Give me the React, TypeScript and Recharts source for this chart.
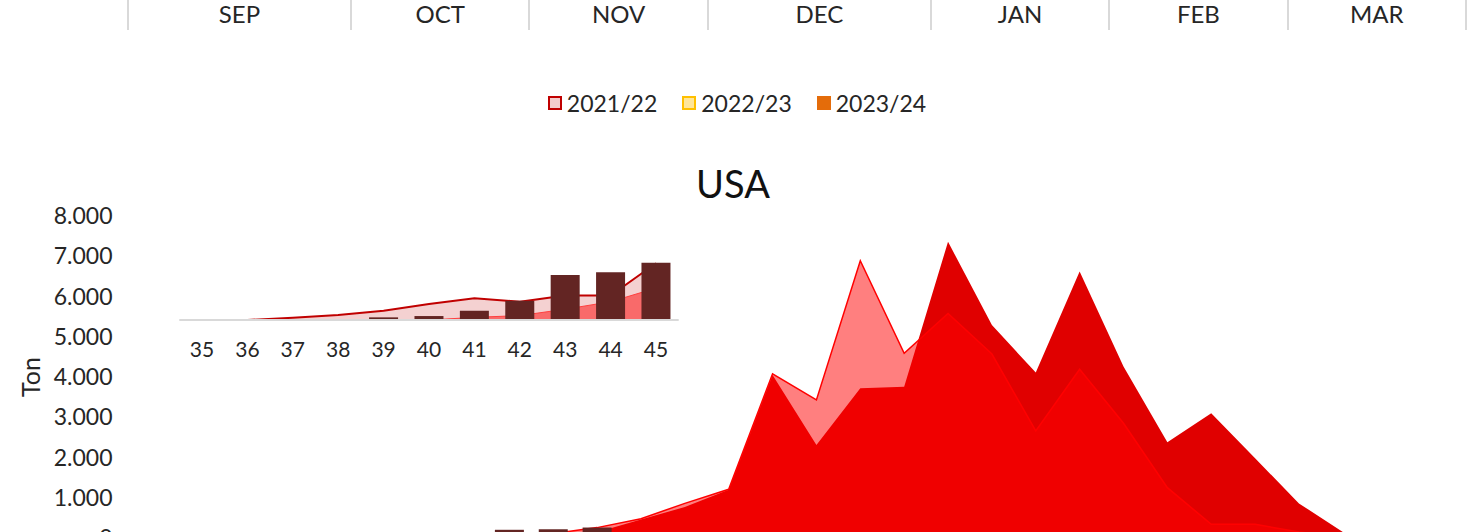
import React from 'react';
import { ComposedChart, Area, Bar, XAxis, YAxis } from 'recharts';

// ---- data ----
const weeks = ['35','36','37','38','39','40','41','42','43','44','45','46','47','48','49','50','51','52','1','2','3','4','5','6','7','8','9','10','11','12'];
const season2122: (number | null)[] = [null,0,10,23,42,73,99,83,111,111,258,480,860,1210,4080,3430,6890,4590,5580,4570,2660,4190,2850,1250,340,340,150,20,0,0];
const season2223: (number | null)[] = [null,null,null,null,null,0,12,20,49,83,145,460,770,1200,4050,2310,3720,3760,7360,5290,4110,6620,4260,2380,3100,1980,860,150,0,0];
const season2324: (number | null)[] = [null,null,null,null,12,18,42,87,204,217,260,null,null,null,null,null,null,null,null,null,null,null,null,null,null,null,null,null,null,null];

const months = ['SEP','OCT','NOV','DEC','JAN','FEB','MAR'];
const monthWeeks = [5,4,4,5,4,4,4];

const yTicks = [0,1000,2000,3000,4000,5000,6000,7000,8000];
const insetTicksMax = 400;
const insetWeekCount = 11;

const legendLabels = ['2021/22','2022/23','2023/24'];
const legendFills = ['#F4CCCC','#FFE699','#E46C0A'];
const legendBorders = ['#C00000','#FFC000','#E46C0A'];

const title = 'USA';
const yLabel = 'Ton';

const data = weeks.map((w, i) => ({ week: w, s2122: season2122[i], s2223: season2223[i], s2324: season2324[i] }));
const insetData = data.slice(0, insetWeekCount);

const FONT = 'Lato, "Noto Sans", sans-serif';
const TEXT = '#262626';
const fmt = (v: number) => String(v).replace(/\B(?=(\d{3})+(?!\d))/g, '.');

function MonthHeader() {
  const left = 128;
  const ww = 44.6;
  let acc = 0;
  const items = months.map((m, i) => {
    const start = left + acc * ww;
    acc += monthWeeks[i];
    const end = left + acc * ww;
    return { m, start, end };
  });
  return (
    <div style={{ position: 'absolute', left: 0, top: 0, width: 1476, height: 40 }}>
      {items.map((it, i) => (
        <React.Fragment key={it.m}>
          {i === 0 && <div style={{ position: 'absolute', left: it.start - 1, top: 0, width: 2, height: 30, background: '#D9D9D9' }} />}
          <div style={{ position: 'absolute', left: it.end - 1, top: 0, width: 2, height: 30, background: '#D9D9D9' }} />
          <div style={{ position: 'absolute', left: it.start, width: it.end - it.start, top: 1, height: 26, lineHeight: '26px', textAlign: 'center', fontFamily: FONT, fontSize: 24, color: TEXT }}>{it.m}</div>
        </React.Fragment>
      ))}
    </div>
  );
}

function LegendRow() {
  return (
    <div style={{ position: 'absolute', left: 0, top: 89, width: 1474, height: 28, display: 'flex', justifyContent: 'center', alignItems: 'center', fontFamily: FONT, fontSize: 23, color: TEXT }}>
      {legendLabels.map((l, i) => (
        <div key={l} style={{ display: 'flex', alignItems: 'center', marginLeft: i === 0 ? 0 : 25 }}>
          <div style={{ width: 14, height: 14, boxSizing: 'border-box', background: legendFills[i], border: `2px solid ${legendBorders[i]}`, marginRight: 5 }} />
          <span style={{ lineHeight: '28px' }}>{l}</span>
        </div>
      ))}
    </div>
  );
}

export default function App() {
  return (
    <div style={{ position: 'relative', width: 1476, height: 532, overflow: 'hidden', background: '#fff' }}>
      <style>{'html,body{margin:0;padding:0;overflow:hidden;background:#fff}'}</style>
      <MonthHeader />
      <LegendRow />
      <div style={{ position: 'absolute', left: 0, top: 161, width: 1466, textAlign: 'center', fontFamily: FONT, fontSize: 38, lineHeight: '44px', color: '#111' }}>{title}</div>

      <div style={{ position: 'absolute', left: 0, top: 0 }}>
        <ComposedChart width={1476} height={600} data={data} margin={{ top: 216, right: 23.5, bottom: 62, left: 0 }} barCategoryGap="17%">
          <XAxis dataKey="week" hide />
          <YAxis
            width={136.5}
            domain={[0, 8000]}
            ticks={yTicks}
            interval={0}
            tickFormatter={fmt}
            axisLine={false}
            tickLine={false}
            tickSize={0}
            tickMargin={24}
            tick={{ fontSize: 23, fill: TEXT, fontFamily: FONT }}
            label={(p: any) => {
              const vb = p.viewBox || { x: 0, y: 216, width: 136.5, height: 322 };
              const cx = vb.x + 30;
              const cy = vb.y + vb.height / 2;
              return (
                <text x={cx} y={cy} transform={`rotate(-90, ${cx}, ${cy})`} textAnchor="middle" dominantBaseline="central" fontSize={25} fill={TEXT} fontFamily={FONT}>{yLabel}</text>
              );
            }}
          />
          <Area type="linear" dataKey="s2223" name="2022/23" fill="#E00000" fillOpacity={1} stroke="none" isAnimationActive={false} dot={false} activeDot={false} />
          <Area type="linear" dataKey="s2122" name="2021/22" fill="#FF0000" fillOpacity={0.5} stroke="#FF0000" strokeWidth={1.5} isAnimationActive={false} dot={false} activeDot={false} />
          <Bar dataKey="s2324" name="2023/24" fill="#632523" isAnimationActive={false} />
        </ComposedChart>
      </div>

      <div style={{ position: 'absolute', left: 0, top: 0 }}>
        <ComposedChart width={700} height={380} data={insetData} margin={{ top: 232, right: 21.3, bottom: 0, left: 179.3 }} barCategoryGap="18%">
          <XAxis
            dataKey="week"
            interval={0}
            height={60}
            axisLine={{ stroke: '#D9D9D9', strokeWidth: 2 }}
            tickLine={false}
            tickSize={0}
            tickMargin={22}
            tick={{ fontSize: 21, fill: TEXT, fontFamily: FONT }}
          />
          <YAxis hide domain={[0, insetTicksMax]} />
          <Area type="linear" dataKey="s2122" fill="#C00000" fillOpacity={0.18} stroke="#C00000" strokeWidth={2} isAnimationActive={false} dot={false} activeDot={false} />
          <Area type="linear" dataKey="s2223" fill="#F96A6A" fillOpacity={1} stroke="#FF4040" strokeWidth={1} isAnimationActive={false} dot={false} activeDot={false} />
          <Bar dataKey="s2324" fill="#632523" isAnimationActive={false} />
        </ComposedChart>
      </div>
    </div>
  );
}
